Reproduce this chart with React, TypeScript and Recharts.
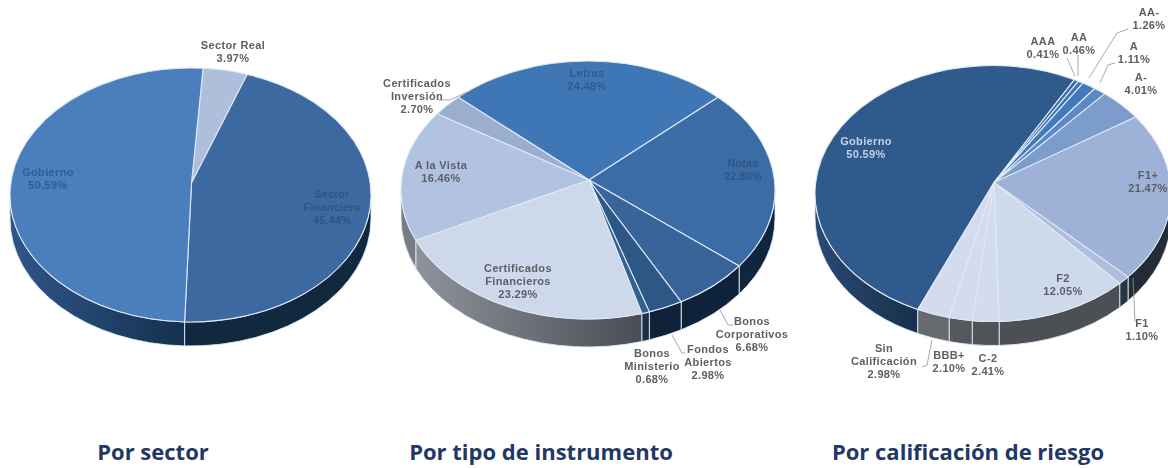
import React from "react";
import { PieChart, Pie } from "recharts";

const sectorNames = ["Sector Real", "Sector Financiero", "Gobierno"];
const sectorValues = [3.97, 45.44, 50.59];
const sectorColors = ["#aebfdc", "#3c699f", "#4a7ebc"];
const sectorWalls = ["#142c47", "#12283f", "url(#wallBlue)"];

const instrumentNames = ["Letras", "Notas", "Bonos Corporativos", "Fondos Abiertos", "Bonos Ministerio", "Certificados Financieros", "A la Vista", "Certificados Inversión"];
const instrumentValues = [24.48, 22.8, 6.68, 2.98, 0.68, 23.29, 16.46, 2.7];
const instrumentColors = ["#3f76b6", "#3c6ca6", "#38649a", "#2f5786", "#33608f", "#cdd8ea", "#b1c3e0", "#9aaed0"];
const instrumentWalls = ["#10263e", "#10263e", "#0e2239", "#0e2239", "#1a3048", "url(#wallGray)", "#777c85", "#777c85"];

const ratingNames = ["Gobierno", "AAA", "AA", "AA-", "A", "A-", "F1+", "F1", "F2", "C-2", "BBB+", "Sin Calificación"];
const ratingValues = [50.59, 0.41, 0.46, 1.26, 1.11, 4.01, 21.47, 1.1, 12.05, 2.41, 2.1, 2.98];
const ratingColors = ["#2f5a8c", "#3a6aa5", "#3f74b5", "#4379bb", "#5a8ac5", "#7c9dcc", "#9db2d6", "#aebfde", "#cfd9ec", "#d2dcee", "#d2dcee", "#d2dcee"];
const ratingWalls = ["url(#wallNavy)", "#444", "#444", "#444", "#444", "#444", "#222b36", "#2a3440", "#4c4f54", "#505358", "#55585d", "#66696e"];

const titles = ["Por sector", "Por tipo de instrumento", "Por calificación de riesgo"];
const titleCenters = [153, 541, 968];

type LabelSpec = { lines: string[]; x: number; y: number; color?: string; size?: number; leader?: string };

const sectorLabels: LabelSpec[] = [
  { lines: ["Sector Real", "3.97%"], x: 233, y: 45 },
  { lines: ["Sector", "Financiero", "45.44%"], x: 332, y: 194, color: "#2d5586", size: 10.5 },
  { lines: ["Gobierno", "50.59%"], x: 48, y: 172, color: "#2c5f96" },
];
const instrumentLabels: LabelSpec[] = [
  { lines: ["Letras", "24.48%"], x: 587, y: 73, color: "#2e5a8f" },
  { lines: ["Notas", "22.80%"], x: 743, y: 163, color: "#2d5586", size: 10.5 },
  { lines: ["Bonos", "Corporativos", "6.68%"], x: 752, y: 321, leader: "720,310 728,325 733,325" },
  { lines: ["Fondos", "Abiertos", "2.98%"], x: 708, y: 349, leader: "672,335 682,353 685,353" },
  { lines: ["Bonos", "Ministerio", "0.68%"], x: 652, y: 353 },
  { lines: ["Certificados", "Financieros", "23.29%"], x: 518, y: 268 },
  { lines: ["A la Vista", "16.46%"], x: 441, y: 165 },
  { lines: ["Certificados", "Inversión", "2.70%"], x: 417, y: 83, leader: "438,100 450,100 467,92" },
];
const ratingLabels: LabelSpec[] = [
  { lines: ["Gobierno", "50.59%"], x: 866, y: 141, color: "#c3d2e6" },
  { lines: ["AAA", "0.41%"], x: 1043, y: 41, leader: "1067,58 1075,76" },
  { lines: ["AA", "0.46%"], x: 1079, y: 37, leader: "1078,55 1078,76" },
  { lines: ["AA-", "1.26%"], x: 1149, y: 12, leader: "1128,29 1117,33 1089,78" },
  { lines: ["A", "1.11%"], x: 1134, y: 46, leader: "1115,63 1108,65 1100,83" },
  { lines: ["A-", "4.01%"], x: 1141, y: 77 },
  { lines: ["F1+", "21.47%"], x: 1148, y: 175 },
  { lines: ["F1", "1.10%"], x: 1142, y: 323, leader: "1133,278 1135,322" },
  { lines: ["F2", "12.05%"], x: 1063, y: 278 },
  { lines: ["C-2", "2.41%"], x: 988, y: 358 },
  { lines: ["BBB+", "2.10%"], x: 949, y: 355 },
  { lines: ["Sin", "Calificación", "2.98%"], x: 884, y: 348, leader: "932,340 927,365 922,367" },
];

const table = (names: string[], values: number[], colors: string[], walls: string[]) =>
  names.map((name, i) => ({ name, value: values[i], fill: colors[i], wall: walls[i] }));

const point = (cx: number, cy: number, rx: number, ry: number, deg: number) => {
  const r = (deg * Math.PI) / 180;
  return [cx + rx * Math.cos(r), cy - ry * Math.sin(r)];
};

const topShape = (squash: number, apexShift: number) => (p: any) => {
  const { cx, cy, outerRadius, startAngle, endAngle, fill } = p;
  const ry = outerRadius * squash;
  const a = point(cx, cy, outerRadius, ry, startAngle);
  const b = point(cx, cy, outerRadius, ry, endAngle);
  const large = Math.abs(startAngle - endAngle) > 180 ? 1 : 0;
  const d = `M${cx + 1},${cy + apexShift} L${a[0]},${a[1]} A${outerRadius},${ry} 0 ${large} 1 ${b[0]},${b[1]} Z`;
  return <path d={d} fill={fill} stroke="#dfe9f6" strokeWidth={1.1} strokeLinejoin="round" />;
};

const wallShape = (squash: number, depth: number) => (p: any) => {
  const { cx, cy, outerRadius, startAngle, endAngle, payload } = p;
  const ry = outerRadius * squash;
  const hi = Math.max(startAngle, endAngle);
  const lo = Math.min(startAngle, endAngle);
  const parts: React.ReactNode[] = [];
  for (let k = -3; k <= 1; k++) {
    const from = Math.min(hi, 360 + 360 * k);
    const to = Math.max(lo, 180 + 360 * k);
    if (from <= to) continue;
    const a = point(cx, cy, outerRadius, ry, from);
    const b = point(cx, cy, outerRadius, ry, to);
    const d = `M${a[0]},${a[1]} A${outerRadius},${ry} 0 0 1 ${b[0]},${b[1]} L${b[0]},${b[1] + depth} A${outerRadius},${ry} 0 0 0 ${a[0]},${a[1] + depth} Z`;
    parts.push(<path key={k} d={d} fill={payload.wall ?? p.wall} stroke="#dfe9f6" strokeWidth={0.9} />);
  }
  return <g>{parts}</g>;
};

const labelRenderer = (specs: LabelSpec[]) => (p: any) => {
  const s = specs[p.index];
  if (!s) return null;
  const size = s.size ?? 11;
  const lh = 13.2;
  return (
    <g>
      {s.leader && <polyline points={s.leader} fill="none" stroke="#8d939b" strokeWidth={0.8} />}
      <text x={s.x} textAnchor="middle" fontFamily="Liberation Sans, Arial, sans-serif" fontWeight={700} fontSize={size} letterSpacing={0.35} fill={s.color ?? "#5c5f64"}>
        {s.lines.map((l, i) => (
          <tspan key={i} x={s.x} y={s.y + 4 + i * lh}>{l}</tspan>
        ))}
      </text>
    </g>
  );
};

const charts = [
  { id: "sector", data: table(sectorNames, sectorValues, sectorColors, sectorWalls), labels: sectorLabels, cx: 190.5, cy: 195, r: 180.5, squash: 127 / 180.5, depth: 24, apex: -12, start: 86 },
  { id: "instr", data: table(instrumentNames, instrumentValues, instrumentColors, instrumentWalls), labels: instrumentLabels, cx: 588, cy: 190, r: 187, squash: 129 / 187, depth: 28, apex: -10, start: 134 },
  { id: "rating", data: table(ratingNames, ratingValues, ratingColors, ratingWalls), labels: ratingLabels, cx: 993, cy: 193.5, r: 178, squash: 128 / 178, depth: 24, apex: -11, start: -115 },
];

export default function App() {
  return (
    <div style={{ position: "absolute", left: 0, top: 0, width: 1168, height: 468, overflow: "hidden", background: "#fff" }}>
      <div style={{ filter: "blur(0.45px)" }}>
        <PieChart width={1168} height={468} margin={{ top: 0, right: 0, bottom: 0, left: 0 }}>
          <defs>
            <linearGradient id="wallBlue" x1="0" y1="0" x2="1" y2="0">
              <stop offset="0%" stopColor="#2f5688" />
              <stop offset="100%" stopColor="#15304f" />
            </linearGradient>
            <linearGradient id="wallGray" x1="0" y1="0" x2="1" y2="0">
              <stop offset="0%" stopColor="#8f949c" />
              <stop offset="100%" stopColor="#4a4e54" />
            </linearGradient>
            <linearGradient id="wallNavy" x1="0" y1="0" x2="1" y2="0">
              <stop offset="0%" stopColor="#2a4a73" />
              <stop offset="100%" stopColor="#172f4c" />
            </linearGradient>
          </defs>
          {charts.flatMap((c) => [
            <Pie key={c.id + "-wall"} data={c.data} dataKey="value" nameKey="name" cx={c.cx} cy={c.cy} innerRadius={0} outerRadius={c.r} startAngle={c.start} endAngle={c.start - 360} isAnimationActive={false} stroke="none" shape={wallShape(c.squash, c.depth)} />,
            <Pie key={c.id + "-top"} data={c.data} dataKey="value" nameKey="name" cx={c.cx} cy={c.cy} innerRadius={0} outerRadius={c.r} startAngle={c.start} endAngle={c.start - 360} isAnimationActive={false} shape={topShape(c.squash, c.apex)} label={labelRenderer(c.labels)} labelLine={false} />,
          ])}
        </PieChart>
      </div>
      {titles.map((t, i) => (
        <div key={t} style={{ position: "absolute", left: titleCenters[i] - 200, width: 400, top: 436, textAlign: "center", fontFamily: "'Open Sans', sans-serif", fontWeight: 700, fontSize: 22, color: "#1f3864", lineHeight: "30px", whiteSpace: "nowrap" }}>{t}</div>
      ))}
    </div>
  );
}
